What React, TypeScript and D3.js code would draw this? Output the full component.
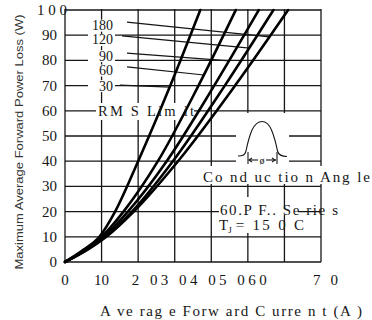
import React from 'react';
import * as d3 from 'd3';

// ---- data ----
const powerLevels = [0, 5, 10, 20, 40, 70, 100];
const current30 = [0, 5.2, 9.4, 13.7, 20, 28.8, 37];
const current60 = [0, 5.6, 10.0, 16, 25.4, 36.5, 46.7];
const current90 = [0, 5.9, 10.6, 17.2, 27.8, 40.8, 53];
const current120 = [0, 6.1, 11.0, 18.3, 29.5, 43.7, 57];
const current180 = [0, 6.3, 11.3, 18.8, 30.9, 46.5, 61];

const angleLabels = ['180', '120', '90', '60', '30'];
const rmsStartCurrent = [16.95, 15.6, 16.95, 16.95, 15];
const rmsStartPower = [95.2, 89.7, 82.9, 77.4, 70.2];
const rmsEndCurrent = [55.9, 50.5, 45, 38, 28.7];
const rmsEndPower = [89.3, 84.9, 79.8, 74.2, 69.4];
const labelPower = [93.8, 88.1, 81.7, 76, 69.8];

const yTickValues = [0, 10, 20, 30, 40, 50, 60, 70, 80, 90, 100];
const yTickLabels = ['0', '10', '20', '30', '40', '50', '60', '70', '80', '90', '1 0 0'];
const xGridValues = [0, 10, 20, 30, 40, 50, 60, 70];
const xTickLabels = ['0', '10', '2 03 04 05 060', '7 0'];
const xTickAt = [0, 10, 36.7, 71.2];

const xTitle = 'A ve rag e Forw ard C urre n t (A )';
const yTitle = 'Maximum Average Forward Power Loss (W)';

const serif = '"Liberation Serif", "Times New Roman", serif';
const sans = '"Liberation Sans", Arial, sans-serif';

export default function App() {
  const W = 372, H = 320;
  const x = d3.scaleLinear().domain([0, 70]).range([65, 321]);
  const y = d3.scaleLinear().domain([0, 100]).range([262, 10]);

  const curves = [current180, current120, current90, current60, current30];
  const line = d3
    .line<[number, number]>()
    .x((d) => x(d[0]))
    .y((d) => y(d[1]))
    .curve(d3.curveMonotoneX);

  const ink = '#161616';

  return (
    <svg width={W} height={H} style={{ position: 'absolute', left: 0, top: 0, background: '#fff' }}>
      <rect x={0} y={0} width={W} height={H} fill="#fff" />
      {/* grid */}
      <g stroke={ink} strokeWidth={1.3}>
        {xGridValues.map((v) => (
          <line key={'gx' + v} x1={x(v)} x2={x(v)} y1={y(0)} y2={y(100) - 1} />
        ))}
        {yTickValues.map((v) => (
          <line key={'gy' + v} x1={x(0)} x2={x(70)} y1={y(v)} y2={y(v)} />
        ))}
      </g>

      {/* masks behind texts */}
      <g fill="#fff">
        {angleLabels.map((l, i) => (
          <rect key={'m' + l} x={88} y={y(labelPower[i]) - 6} width={27} height={12} />
        ))}
        <rect x={96} y={103} width={98} height={17} />
        <rect x={236} y={113} width={53} height={55} />
        <rect x={200} y={166} width={172} height={18} />
        <rect x={219} y={197} width={63} height={36} />
        <rect x={282} y={209} width={16} height={6} />
      </g>

      {/* RMS limit lines */}
      <g stroke={ink} strokeWidth={1.2}>
        {angleLabels.map((l, i) => (
          <line
            key={'r' + l}
            x1={x(rmsStartCurrent[i])}
            y1={y(rmsStartPower[i])}
            x2={x(rmsEndCurrent[i])}
            y2={y(rmsEndPower[i])}
          />
        ))}
      </g>

      {/* curves */}
      <g fill="none" stroke="#000" strokeWidth={2.6} strokeLinecap="round">
        {curves.map((c, i) => (
          <path key={'c' + i} d={line(c.map((a, k) => [a, powerLevels[k]] as [number, number])) || ''} />
        ))}
      </g>

      {/* angle labels */}
      <g fontFamily={serif} fontSize={14} fill={ink} textAnchor="end">
        {angleLabels.map((l, i) => (
          <text key={'t' + l} x={113} y={y(labelPower[i]) + 4.5}>
            {l}
          </text>
        ))}
      </g>
      <text x={98} y={116} fontFamily={serif} fontSize={14.5} fill={ink} textLength={96} lengthAdjust="spacing">
        RM S Lim it
      </text>

      {/* waveform inset */}
      <g fill="none" stroke={ink} strokeWidth={1.1}>
        <path d="M238,156 C243,156 245,155 246,151 C247,146 249,137 252,130 C255,124 258,121.5 262,121.5 C266,121.5 269,124 271.5,130 C274.5,137 276.5,146 277.5,151 C278.5,155 281,156.5 287,156.5" />
        <line x1={248} x2={248} y1={152} y2={164} />
        <line x1={277} x2={277} y1={152} y2={164} />
        <line x1={249} x2={258} y1={160} y2={160} />
        <line x1={266} x2={276} y1={160} y2={160} />
        <path d="M252,158 L249,160 L252,162" />
        <path d="M272,158 L275,160 L272,162" />
      </g>
      <text x={262} y={163.5} fontFamily={serif} fontSize={10} textAnchor="middle" fill={ink}>
        ø
      </text>

      <text x={203} y={182} fontFamily={serif} fontSize={15} fill={ink} textLength={167} lengthAdjust="spacing">
        Co nd uc tio n Ang le
      </text>
      <text x={220} y={215} fontFamily={serif} fontSize={15} fill={ink} textLength={118} lengthAdjust="spacing">
        60.P F.. Se rie s
      </text>
      <text x={219} y={230} fontFamily={serif} fontSize={15} fill={ink}>
        T
        <tspan fontSize={9} dy={3}>J</tspan>
        <tspan dx={4} dy={-3} letterSpacing={2.3}>= 15 0 C</tspan>
      </text>

      {/* y tick labels */}
      <g fontFamily={serif} fontSize={15} fill={ink}>
        {yTickValues.map((v, i) =>
          v === 100 ? (
            <text key={'yl' + v} x={37} y={y(v) + 5} textLength={30} lengthAdjust="spacing">
              {yTickLabels[i]}
            </text>
          ) : (
            <text key={'yl' + v} x={57} y={y(v) + 5} textAnchor="end">
              {yTickLabels[i]}
            </text>
          )
        )}
      </g>

      {/* x tick labels */}
      <g fontFamily={serif} fontSize={15} fill={ink} textAnchor="middle">
        {xTickLabels.map((l, i) => (
          <text
            key={'xl' + i}
            x={x(xTickAt[i])}
            y={285}
            textLength={i === 2 ? 135 : i === 3 ? 25 : undefined}
            lengthAdjust="spacing"
          >
            {l}
          </text>
        ))}
      </g>

      {/* axis titles */}
      <text x={100} y={316} fontFamily={serif} fontSize={15} fill={ink} textLength={262} lengthAdjust="spacing">
        {xTitle}
      </text>
      <text
        transform="translate(23,142) rotate(-90)"
        fontFamily={sans}
        fontSize={11.5}
        fill="#333"
        textAnchor="middle"
        textLength={255}
        lengthAdjust="spacingAndGlyphs"
      >
        {yTitle}
      </text>
    </svg>
  );
}
